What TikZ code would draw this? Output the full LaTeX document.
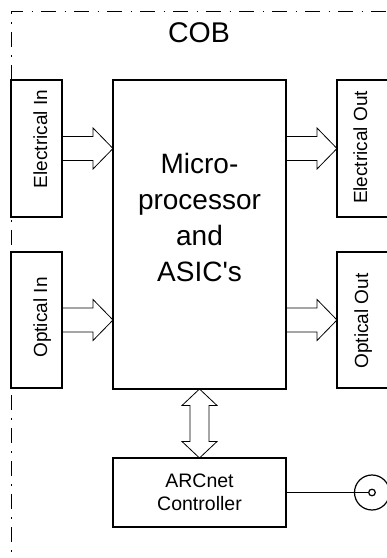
\documentclass[tikz,border=0pt]{standalone}
\usepackage{fontspec}
\setmainfont{Liberation Sans}
\usetikzlibrary{calc}

% hollow block arrow between two points on one horizontal line
\newcommand{\fatarrow}[2]{%
  \draw[fat] ($(#1)+(0,12)$) -- ($(#2)+(-20,12)$) -- ($(#2)+(-20,20.5)$) -- (#2)
    -- ($(#2)+(-20,-20.5)$) -- ($(#2)+(-20,-12)$) -- ($(#1)+(0,-12)$);}

\begin{document}
\begin{tikzpicture}[x=1pt,y=1pt,
  blk/.style={draw,line width=1.2pt,inner sep=0pt,outer sep=0pt},
  side/.style={font=\fontsize{19}{22}\selectfont,rotate=90,anchor=base,inner sep=0pt},
  fat/.style={line width=0.8pt},
  cob/.style={line width=1pt,dash pattern=on 15pt off 8.5pt on 1.5pt off 8pt}]
  \useasboundingbox (0,0) rectangle (387,558);

  % board outline
  \coordinate (corner) at (11,546);
  \draw[cob,dash phase=3pt] (corner) -- (400,546);
  \draw[cob,dash phase=13pt] (corner) -- (11,-5);
  \node[font=\fontsize{28.5}{32}\selectfont,anchor=base] (cob) at (199,515) {COB};

  % blocks
  \node[blk,minimum width=51pt,minimum height=137pt] (elin) at (36.5,409.5) {};
  \node[blk,minimum width=51pt,minimum height=136pt] (opin) at (36.5,238) {};
  \node[blk,minimum width=173pt,minimum height=309pt] (micro) at (199.5,323.5) {};
  \node[blk,minimum width=51pt,minimum height=137pt] (elout) at (362.5,409.5) {};
  \node[blk,minimum width=51pt,minimum height=136pt] (opout) at (362.5,238) {};
  \node[blk,minimum width=173pt,minimum height=69pt,align=center,
        font=\fontsize{19.5}{22.5}\selectfont] (arc) at (199.5,65.5) {ARCnet\\Controller};

  \node[side] (elinlbl) at (47,419) {Electrical In};
  \node[side] (opinlbl) at (47,240.5) {Optical In};
  \node[side] (eloutlbl) at (367,410.5) {Electrical Out};
  \node[side] (opoutlbl) at (368,237) {Optical Out};
  \node[font=\fontsize{28}{36}\selectfont,align=center] (mtxt) at (199.5,340.5)
    {Micro-\\processor\\and\\ASIC\textquotesingle s};

  % data paths
  \coordinate (t1) at (elin.east -| micro.west);
  \coordinate (t2) at (opin.east -| micro.west);
  \coordinate (s3) at (elout.west -| micro.east);
  \coordinate (s4) at (opout.west -| micro.east);
  \fatarrow{elin.east}{t1}
  \fatarrow{opin.east}{t2}
  \fatarrow{s3}{elout.west}
  \fatarrow{s4}{opout.west}

  \draw[fat] (micro.south) -- ($(micro.south)+(17.5,-16.5)$) -- ($(micro.south)+(9.5,-16.5)$)
    -- ($(arc.north)+(9.5,16.5)$) -- ($(arc.north)+(17.5,16.5)$) -- (arc.north)
    -- ($(arc.north)+(-17.5,16.5)$) -- ($(arc.north)+(-9.5,16.5)$)
    -- ($(micro.south)+(-9.5,-16.5)$) -- ($(micro.south)+(-17.5,-16.5)$) -- cycle;

  % network jack
  \node[draw,circle,minimum size=35pt,inner sep=0pt,line width=1.2pt] (bnc) at (372,65.5) {};
  \node[draw,circle,minimum size=6.6pt,inner sep=0pt,line width=1.2pt] (pin) at (bnc) {};
  \draw[line width=1.2pt] (arc.east) -- (pin.west);
\end{tikzpicture}
\end{document}
